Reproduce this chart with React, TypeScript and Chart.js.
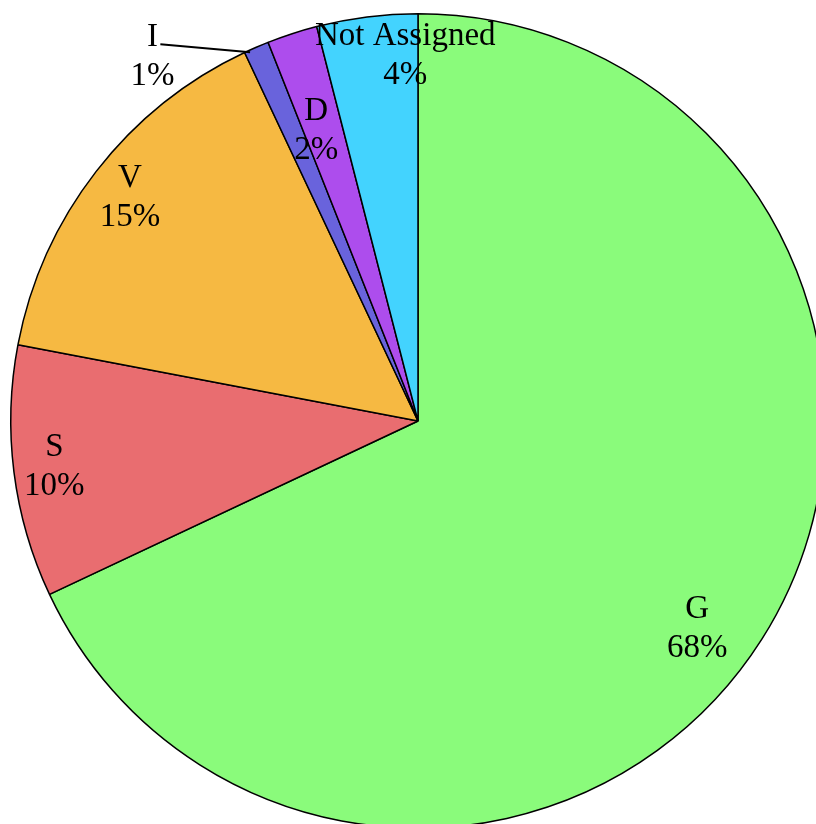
import React, { useEffect, useRef } from "react";
import { Chart, registerables } from "chart.js";

Chart.register(...registerables);

// Category labels and their shares (percent)
const categories = ["G", "S", "V", "I", "D", "Not Assigned"];
const shares = [68, 10, 15, 1, 2, 4];
const sliceColors = ["#8AFB7B", "#E96D70", "#F6B942", "#6963DC", "#AD4DED", "#43D3FE"];

// Label placement: fraction of radius and an angular nudge (degrees) from slice mid-angle
const labelRadius = [0.855, 0.9, 0.895, 1.107, 0.756, 0.898];
const labelNudge = [4.3, 0, 0, -12.7, -1.3, 5.2];
const leaderLine = [false, false, false, true, false, false];

const FONT_SIZE = 33;
const LINE_GAP = 39;

const labelPlugin = {
  id: "sliceLabels",
  afterDatasetsDraw(chart: any) {
    const ctx = chart.ctx;
    const meta = chart.getDatasetMeta(0);
    ctx.save();
    ctx.font = `${FONT_SIZE}px "Liberation Serif", "Times New Roman", serif`;
    ctx.fillStyle = "#000";
    ctx.textAlign = "center";
    ctx.textBaseline = "middle";
    meta.data.forEach((arc: any, i: number) => {
      const { x, y, startAngle, endAngle, outerRadius } = arc.getProps(
        ["x", "y", "startAngle", "endAngle", "outerRadius"],
        true
      );
      const mid = (startAngle + endAngle) / 2;
      const a = mid + (labelNudge[i] * Math.PI) / 180;
      const r = outerRadius * labelRadius[i];
      const lx = x + Math.cos(a) * r;
      const ly = y + Math.sin(a) * r;
      const pct = Math.round(shares[i]) + "%";
      ctx.fillText(categories[i], lx, ly - LINE_GAP / 2);
      ctx.fillText(pct, lx, ly + LINE_GAP / 2);
      if (leaderLine[i]) {
        // leader from the label to the outer edge of the slice
        const ea = startAngle + (endAngle - startAngle) * 0.2;
        const ex = x + Math.cos(ea) * outerRadius * 0.995;
        const ey = y + Math.sin(ea) * outerRadius * 0.995;
        ctx.beginPath();
        ctx.strokeStyle = "#000";
        ctx.lineWidth = 2;
        ctx.moveTo(lx + 8, ly - LINE_GAP / 2 + 7);
        ctx.lineTo(ex, ey);
        ctx.stroke();
      }
    });
    ctx.restore();
  },
};

export default function App() {
  const canvasRef = useRef<HTMLCanvasElement | null>(null);

  useEffect(() => {
    const canvas = canvasRef.current;
    if (!canvas) return;
    const chart = new Chart(canvas, {
      type: "pie",
      data: {
        labels: categories,
        datasets: [
          {
            data: shares,
            backgroundColor: sliceColors,
            borderColor: "#000",
            borderWidth: 1.5,
          },
        ],
      },
      options: {
        responsive: false,
        animation: false,
        layout: { padding: 10 },
        plugins: {
          legend: { display: false },
          tooltip: { enabled: false },
        },
      },
      plugins: [labelPlugin],
    });
    return () => chart.destroy();
  }, []);

  return (
    <div
      style={{
        position: "fixed",
        left: 0,
        top: 0,
        width: 816,
        height: 824,
        overflow: "hidden",
        background: "#fff",
      }}
    >
      <canvas
        ref={canvasRef}
        width={836}
        height={842}
        style={{ position: "absolute", left: 0, top: 0, width: 836, height: 842 }}
      />
    </div>
  );
}
